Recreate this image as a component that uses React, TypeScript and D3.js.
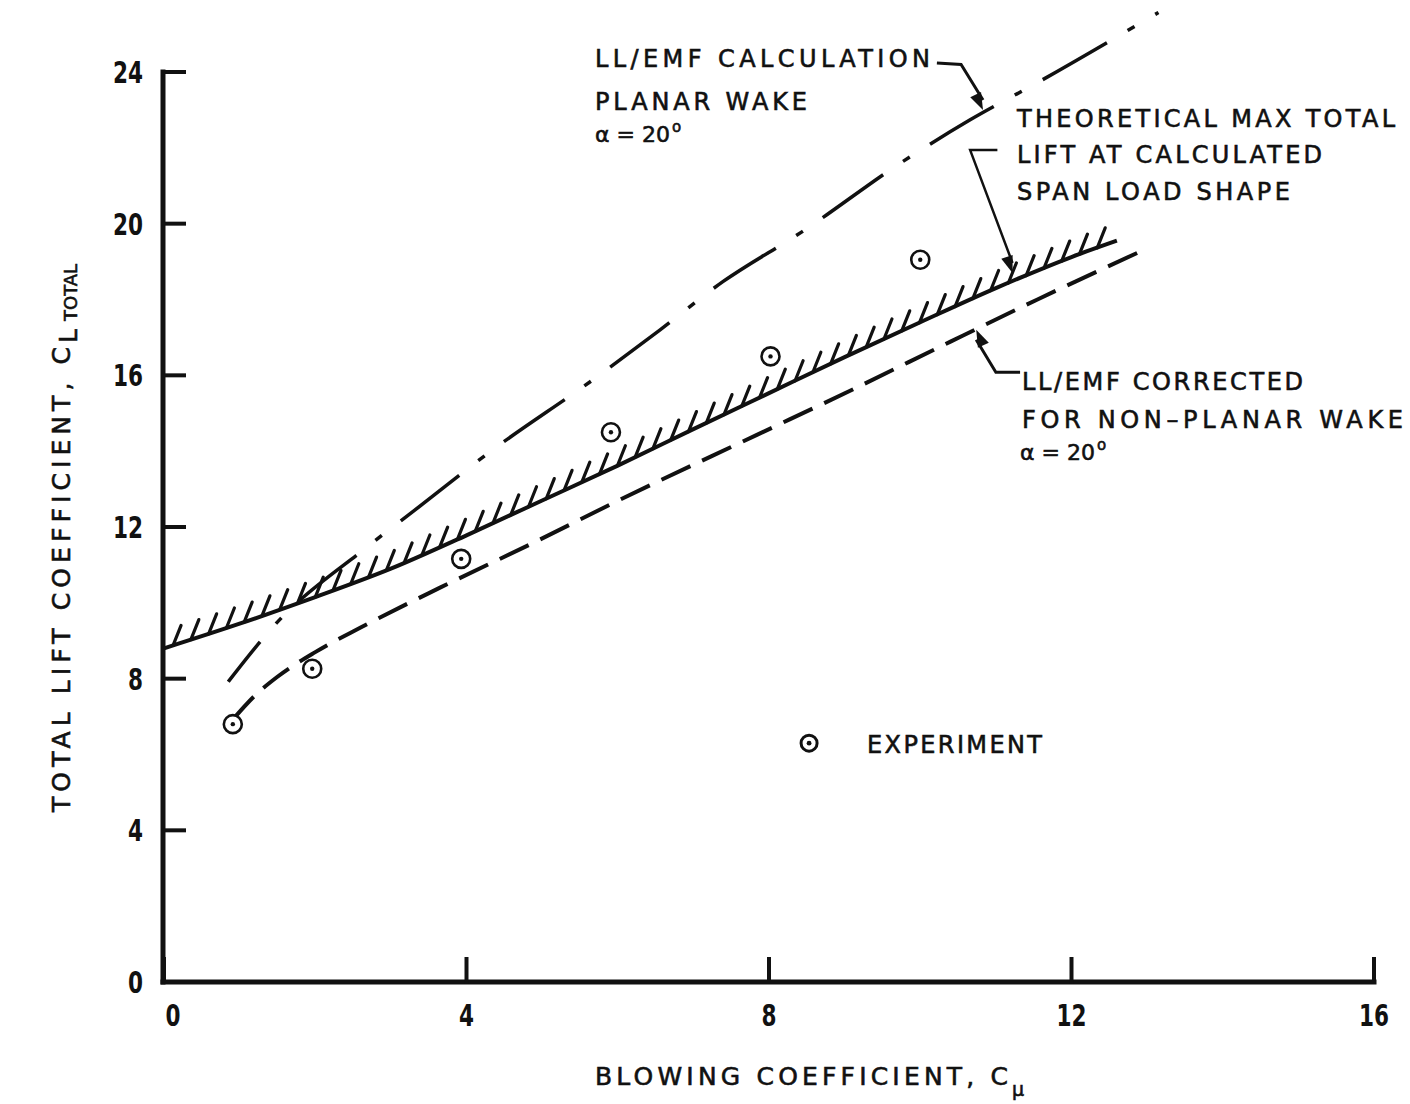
import React from "react";
import * as d3 from "d3";

// ---------- data ----------
const xTicks = [0, 4, 8, 12, 16];
const yTicks = [0, 4, 8, 12, 16, 20, 24];

// Experiment points
const expX = [0.91, 1.96, 3.93, 5.91, 8.02, 10.0];
const expY = [6.8, 8.26, 11.16, 14.5, 16.5, 19.05];

// Theoretical max total lift (solid, hatched)
const maxX = [0, 1, 2, 3, 4, 5, 6, 7, 8, 9, 10, 11, 12, 12.6];
const maxY = [8.8, 9.45, 10.15, 10.9, 11.78, 12.7, 13.62, 14.58, 15.53, 16.48, 17.4, 18.3, 19.12, 19.55];

// LL/EMF corrected for non-planar wake (dashed)
const corrX = [0.9, 1.2, 1.5, 2.0, 2.6, 3.65, 4.88, 6.03, 7.84, 9.1, 10.4, 11.55, 12.87];
const corrY = [6.9, 7.55, 8.05, 8.7, 9.35, 10.4, 11.58, 12.72, 14.43, 15.62, 16.89, 18.0, 19.23];

// LL/EMF calculation, planar wake (dash-dot)
const planX = [0.85, 1.27, 1.43, 2.69, 3.32, 4.35, 5.67, 6.56, 7.39, 8.44, 9.74, 10.66, 11.55, 13.15];
const planY = [7.92, 8.97, 9.34, 11.48, 12.45, 14.04, 15.88, 17.2, 18.47, 19.79, 21.6, 22.74, 23.72, 25.57];

const FONT = "'DejaVu Sans', 'Open Sans', sans-serif";

export default function App() {
  const W = 1410, H = 1104;
  const x = d3.scaleLinear().domain([0, 16]).range([164, 1374]);
  const y = d3.scaleLinear().domain([0, 24]).range([982, 72]);

  const mk = (xs: number[], ys: number[]) =>
    d3.line<number>().x((_, i) => x(xs[i])).y((_, i) => y(ys[i])).curve(d3.curveMonotoneX)(xs.map((_, i) => i)) || "";

  const maxPath = mk(maxX, maxY);
  const corrPath = mk(corrX, corrY);
  const planPath = mk(planX, planY);

  const maxInterp = d3.scaleLinear().domain(maxX).range(maxY);
  const hatchXs = d3.range(0.12, 12.55, 0.235);

  const arrowHead = (tx: number, ty: number, fx: number, fy: number, len = 17, wid = 6) => {
    const a = Math.atan2(ty - fy, tx - fx);
    const bx = tx - len * Math.cos(a), by = ty - len * Math.sin(a);
    const px = -Math.sin(a) * wid, py = Math.cos(a) * wid;
    return `M${tx},${ty}L${bx + px},${by + py}L${bx - px},${by - py}Z`;
  };

  // annotation anchors (data units)
  const a1 = { tx: x(10.83), ty: y(23.0), cx: x(10.54), cy: y(24.2), sx: x(10.22), sy: y(24.24) };
  const a2 = { tx: x(11.22), ty: y(18.7), cx: x(10.66), cy: y(21.94), sx: x(11.02), sy: y(21.94) };
  const a3 = { tx: x(10.74), ty: y(17.2), cx: x(11.0), cy: y(16.08), sx: x(11.32), sy: y(16.08) };

  const T = (props: any) => (
    <text fontFamily={FONT} fontWeight={400} fill="#111" stroke="#111" strokeWidth={0.6} lengthAdjust="spacing" {...props} />
  );

  return (
    <svg width={W} height={H} style={{ display: "block", background: "#fff", position: "absolute", left: 0, top: 0 }}>
      {/* axes */}
      <g stroke="#111" strokeLinecap="square" fill="none">
        <line x1={x(0) - 1} y1={y(24)} x2={x(0) - 1} y2={y(0)} strokeWidth={5} />
        <line x1={x(0) - 1} y1={y(0)} x2={x(16)} y2={y(0)} strokeWidth={5} />
        {yTicks.map((t) => (
          <line key={"yt" + t} x1={x(0)} x2={x(0) + 20} y1={y(t)} y2={y(t)} strokeWidth={4} />
        ))}
        {xTicks.map((t) => (
          <line key={"xt" + t} x1={x(t)} x2={x(t)} y1={y(0)} y2={y(0) - 23} strokeWidth={4} />
        ))}
      </g>
      {/* tick labels */}
      {yTicks.map((t) => (
        <text key={"yl" + t} x={143} y={y(t) + 11} textAnchor="end" fontFamily={FONT} fontWeight={700}
          fontSize={30} fill="#111" textLength={String(t).length * 15} lengthAdjust="spacingAndGlyphs">{t}</text>
      ))}
      {xTicks.map((t) => (
        <text key={"xl" + t} x={t === 0 ? x(t) + 9 : x(t)} y={1026} textAnchor="middle" fontFamily={FONT} fontWeight={700}
          fontSize={30} fill="#111" textLength={String(t).length * 15} lengthAdjust="spacingAndGlyphs">{t}</text>
      ))}

      {/* curves */}
      <path d={planPath} fill="none" stroke="#111" strokeWidth={3.5} strokeDasharray="74 24 8 24" strokeDashoffset={23} />
      <path d={corrPath} fill="none" stroke="#111" strokeWidth={4} strokeDasharray="32 13" />
      <path d={maxPath} fill="none" stroke="#111" strokeWidth={4} />
      <g stroke="#111" strokeWidth={3.2} strokeLinecap="round">
        {hatchXs.map((hx, i) => {
          const px = x(hx), py = y(maxInterp(hx));
          return <line key={"h" + i} x1={px} y1={py} x2={px + 8} y2={py - 20} />;
        })}
      </g>

      {/* experiment points */}
      {expX.map((ex, i) => (
        <g key={"e" + i}>
          <circle cx={x(ex)} cy={y(expY[i])} r={9} fill="#fff" stroke="#111" strokeWidth={2.6} />
          <circle cx={x(ex)} cy={y(expY[i])} r={2.2} fill="#111" />
        </g>
      ))}

      {/* legend */}
      <circle cx={x(8.53)} cy={y(6.3)} r={8} fill="#fff" stroke="#111" strokeWidth={3} />
      <circle cx={x(8.53)} cy={y(6.3)} r={2.4} fill="#111" />
      <T x={867} y={753} fontSize={24} textLength={175}>EXPERIMENT</T>

      {/* annotation leaders */}
      <g stroke="#111" strokeWidth={3} fill="none">
        <polyline points={`${a1.sx},${a1.sy} ${a1.cx},${a1.cy} ${a1.tx},${a1.ty - 10}`} />
        <polyline points={`${a2.sx},${a2.sy} ${a2.cx},${a2.cy} ${a2.tx},${a2.ty - 10}`} strokeWidth={2.5} />
        <polyline points={`${a3.sx},${a3.sy} ${a3.cx},${a3.cy} ${a3.tx},${a3.ty + 10}`} />
      </g>
      <path d={arrowHead(a1.tx, a1.ty, a1.cx, a1.cy)} fill="#111" />
      <path d={arrowHead(a2.tx, a2.ty, a2.cx, a2.cy)} fill="#111" />
      <path d={arrowHead(a3.tx, a3.ty, a3.cx, a3.cy)} fill="#111" />

      <T x={595} y={67} fontSize={24} textLength={335}>LL/EMF CALCULATION</T>
      <T x={595} y={110} fontSize={24} textLength={212}>PLANAR WAKE</T>
      <T x={595} y={142} fontSize={22}>α = 20<tspan dx={2} dy={-10} fontSize={15}>o</tspan></T>

      <T x={1017} y={127} fontSize={24} textLength={378}>THEORETICAL MAX TOTAL</T>
      <T x={1017} y={163} fontSize={24} textLength={305}>LIFT AT CALCULATED</T>
      <T x={1017} y={200} fontSize={24} textLength={273}>SPAN LOAD SHAPE</T>

      <T x={1022} y={390} fontSize={24} textLength={281}>LL/EMF CORRECTED</T>
      <T x={1022} y={428} fontSize={24} textLength={381}>FOR NON–PLANAR WAKE</T>
      <T x={1020} y={460} fontSize={22}>α = 20<tspan dx={2} dy={-10} fontSize={15}>o</tspan></T>

      {/* axis titles */}
      <T x={595} y={1085} fontSize={25} textLength={413}>BLOWING COEFFICIENT, C</T>
      <T x={1012} y={1096} fontSize={19}>μ</T>
      <T transform="translate(70,812) rotate(-90)" fontSize={25} textLength={465}>TOTAL LIFT COEFFICIENT, C</T>
      <T transform="translate(77,343) rotate(-90)" fontSize={25}>L</T>
      <T transform="translate(77,321) rotate(-90)" fontSize={18}>TOTAL</T>
    </svg>
  );
}
